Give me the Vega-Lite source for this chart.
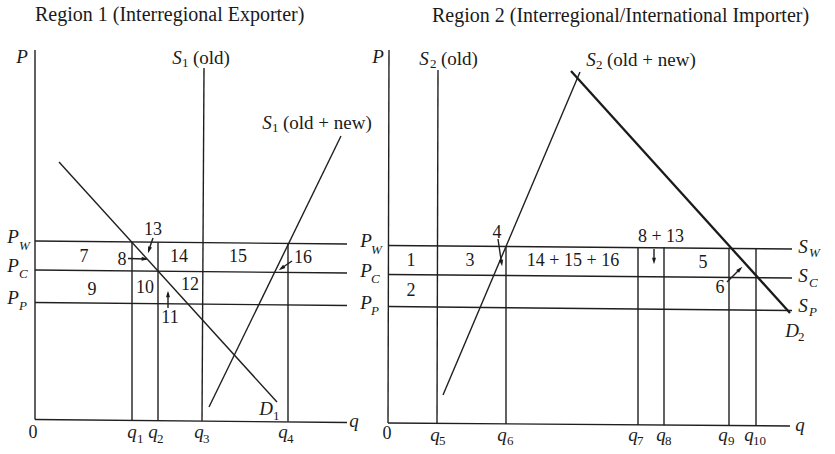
{
  "$schema": "https://vega.github.io/schema/vega-lite/v6.json",
  "width": 835,
  "height": 454,
  "autosize": {"type": "fit", "contains": "padding"},
  "padding": 0,
  "background": "white",
  "config": {"view": {"stroke": null}, "text": {"font": "Liberation Serif", "color": "#1a1a1a", "baseline": "middle"}},
  "datasets": {
    "lines": [
      {"name": "axis", "x": 35, "y": 50, "x2": 35, "y2": 419.5},
      {"name": "axis", "x": 35, "y": 419.5, "x2": 347, "y2": 422.5},
      {"name": "PW", "x": 35, "y": 241, "x2": 347, "y2": 244},
      {"name": "PC", "x": 35, "y": 270, "x2": 347, "y2": 273},
      {"name": "PP", "x": 35, "y": 302.5, "x2": 347, "y2": 305.5},
      {"name": "q1", "x": 132, "y": 242, "x2": 132, "y2": 420.5},
      {"name": "q2", "x": 158, "y": 242.2, "x2": 158, "y2": 420.7},
      {"name": "S1old", "x": 204, "y": 68, "x2": 202, "y2": 421},
      {"name": "q4", "x": 288, "y": 243, "x2": 288, "y2": 421.5},
      {"name": "D1", "x": 59, "y": 162, "x2": 277, "y2": 402},
      {"name": "S1new", "x": 209, "y": 407, "x2": 341, "y2": 136},
      {"name": "axis", "x": 389, "y": 50, "x2": 388, "y2": 423},
      {"name": "axis", "x": 388, "y": 423, "x2": 790, "y2": 426},
      {"name": "SW", "x": 388, "y": 245.5, "x2": 792, "y2": 249},
      {"name": "SC", "x": 388, "y": 274.5, "x2": 792, "y2": 278},
      {"name": "SP", "x": 388, "y": 306.5, "x2": 792, "y2": 310.5},
      {"name": "S2old", "x": 438, "y": 70, "x2": 437, "y2": 423.5},
      {"name": "q6", "x": 506, "y": 246, "x2": 506, "y2": 424},
      {"name": "q7", "x": 638, "y": 247, "x2": 638, "y2": 425},
      {"name": "q8", "x": 664, "y": 247.2, "x2": 664, "y2": 425.2},
      {"name": "q9", "x": 729, "y": 247.8, "x2": 729, "y2": 425.5},
      {"name": "q10", "x": 756, "y": 248, "x2": 756, "y2": 425.7},
      {"name": "S2new", "x": 443, "y": 395, "x2": 580, "y2": 72},
      {"name": "D2", "x": 571, "y": 71, "x2": 790, "y2": 313},
      {"name": "arrow", "x": 153, "y": 238, "x2": 148.5, "y2": 251},
      {"name": "arrow", "x": 128, "y": 258.5, "x2": 146, "y2": 259},
      {"name": "arrow", "x": 292, "y": 261, "x2": 281, "y2": 268.5},
      {"name": "arrow", "x": 168, "y": 308, "x2": 168, "y2": 293},
      {"name": "arrow", "x": 498, "y": 239, "x2": 501.5, "y2": 263},
      {"name": "arrow", "x": 654, "y": 249, "x2": 654, "y2": 261},
      {"name": "arrow", "x": 727, "y": 282, "x2": 740, "y2": 269}
    ],
    "heads": [
      {"x": 149, "y": 250, "angle": 198},
      {"x": 145, "y": 259, "angle": 93},
      {"x": 281.5, "y": 268.3, "angle": 235},
      {"x": 168, "y": 294, "angle": 0},
      {"x": 501.6, "y": 263, "angle": 172},
      {"x": 654, "y": 261, "angle": 180},
      {"x": 740, "y": 269, "angle": 45}
    ],
    "labels": [
      {"role": "title", "x": 35, "y": 15, "text": "Region 1 (Interregional Exporter)"},
      {"role": "title", "x": 432, "y": 16, "text": "Region 2 (Interregional/International Importer)"},
      {"role": "sym", "x": 22, "y": 57, "text": "P"},
      {"role": "sym", "x": 378, "y": 57, "text": "P"},
      {"role": "sym", "x": 354, "y": 421, "text": "q"},
      {"role": "sym", "x": 800, "y": 425, "text": "q"},
      {"role": "sym", "x": 132, "y": 432, "text": "q"},
      {"role": "sym", "x": 153, "y": 432, "text": "q"},
      {"role": "sym", "x": 199, "y": 432, "text": "q"},
      {"role": "sym", "x": 283, "y": 432, "text": "q"},
      {"role": "sym", "x": 435, "y": 435, "text": "q"},
      {"role": "sym", "x": 502, "y": 435, "text": "q"},
      {"role": "sym", "x": 633, "y": 435, "text": "q"},
      {"role": "sym", "x": 661, "y": 435, "text": "q"},
      {"role": "sym", "x": 723, "y": 435, "text": "q"},
      {"role": "sym", "x": 749, "y": 435, "text": "q"},
      {"role": "sym", "x": 13, "y": 237, "text": "P"},
      {"role": "sym", "x": 13, "y": 266, "text": "P"},
      {"role": "sym", "x": 13, "y": 298, "text": "P"},
      {"role": "sym", "x": 366, "y": 241, "text": "P"},
      {"role": "sym", "x": 366, "y": 271, "text": "P"},
      {"role": "sym", "x": 366, "y": 303, "text": "P"},
      {"role": "sym", "x": 803, "y": 247, "text": "S"},
      {"role": "sym", "x": 803, "y": 276, "text": "S"},
      {"role": "sym", "x": 803, "y": 306, "text": "S"},
      {"role": "sym", "x": 266, "y": 409, "text": "D"},
      {"role": "sym", "x": 792, "y": 331, "text": "D"},
      {"role": "sym", "x": 177, "y": 58, "text": "S"},
      {"role": "sym", "x": 267, "y": 123, "text": "S"},
      {"role": "sym", "x": 424, "y": 59, "text": "S"},
      {"role": "sym", "x": 591, "y": 60, "text": "S"},
      {"role": "subl", "x": 19, "y": 246, "text": "W"},
      {"role": "subl", "x": 19, "y": 274, "text": "C"},
      {"role": "subl", "x": 19, "y": 306, "text": "P"},
      {"role": "subl", "x": 371, "y": 250, "text": "W"},
      {"role": "subl", "x": 371, "y": 279, "text": "C"},
      {"role": "subl", "x": 371, "y": 311, "text": "P"},
      {"role": "subl", "x": 809, "y": 253, "text": "W"},
      {"role": "subl", "x": 809, "y": 283, "text": "C"},
      {"role": "subl", "x": 809, "y": 312, "text": "P"},
      {"role": "subn", "x": 137, "y": 439, "text": "1"},
      {"role": "subn", "x": 157, "y": 439, "text": "2"},
      {"role": "subn", "x": 203, "y": 439, "text": "3"},
      {"role": "subn", "x": 287, "y": 439, "text": "4"},
      {"role": "subn", "x": 439, "y": 441, "text": "5"},
      {"role": "subn", "x": 507, "y": 441, "text": "6"},
      {"role": "subn", "x": 637, "y": 441, "text": "7"},
      {"role": "subn", "x": 665, "y": 441, "text": "8"},
      {"role": "subn", "x": 728, "y": 441, "text": "9"},
      {"role": "subn", "x": 753, "y": 441, "text": "10"},
      {"role": "subn", "x": 182, "y": 63, "text": "1"},
      {"role": "subn", "x": 272, "y": 128, "text": "1"},
      {"role": "subn", "x": 430, "y": 64, "text": "2"},
      {"role": "subn", "x": 596, "y": 65, "text": "2"},
      {"role": "subn", "x": 273, "y": 416, "text": "1"},
      {"role": "subn", "x": 798, "y": 337, "text": "2"},
      {"role": "word", "x": 193, "y": 58, "text": "(old)"},
      {"role": "word", "x": 283, "y": 123, "text": "(old + new)"},
      {"role": "word", "x": 441, "y": 59, "text": "(old)"},
      {"role": "word", "x": 607, "y": 60, "text": "(old  +  new)"},
      {"role": "num", "x": 33, "y": 433, "text": "0"},
      {"role": "num", "x": 387, "y": 434, "text": "0"},
      {"role": "num", "x": 153, "y": 230, "text": "13"},
      {"role": "num", "x": 84, "y": 257, "text": "7"},
      {"role": "num", "x": 122, "y": 260, "text": "8"},
      {"role": "num", "x": 179, "y": 257, "text": "14"},
      {"role": "num", "x": 238, "y": 257, "text": "15"},
      {"role": "num", "x": 303, "y": 258, "text": "16"},
      {"role": "num", "x": 92, "y": 290, "text": "9"},
      {"role": "num", "x": 145, "y": 288, "text": "10"},
      {"role": "num", "x": 190, "y": 285, "text": "12"},
      {"role": "num", "x": 170, "y": 318, "text": "11"},
      {"role": "num", "x": 411, "y": 261, "text": "1"},
      {"role": "num", "x": 470, "y": 261, "text": "3"},
      {"role": "num", "x": 497, "y": 233, "text": "4"},
      {"role": "num", "x": 573, "y": 261, "text": "14 + 15 + 16"},
      {"role": "num", "x": 661, "y": 237, "text": "8 + 13"},
      {"role": "num", "x": 703, "y": 263, "text": "5"},
      {"role": "num", "x": 411, "y": 291, "text": "2"},
      {"role": "num", "x": 720, "y": 288, "text": "6"}
    ]
  },
  "encoding": {
    "x": {"field": "x", "type": "quantitative", "scale": {"domain": [0, 835], "nice": false, "zero": false}, "axis": null},
    "y": {"field": "y", "type": "quantitative", "scale": {"domain": [0, 454], "nice": false, "zero": false, "reverse": true}, "axis": null}
  },
  "layer": [
    {
      "data": {"name": "lines"},
      "transform": [{"filter": "datum.name != 'D2'"}],
      "mark": {"type": "rule", "color": "#1f1f1f", "strokeWidth": 1.4},
      "encoding": {"x2": {"field": "x2"}, "y2": {"field": "y2"}}
    },
    {
      "data": {"name": "lines"},
      "transform": [{"filter": "datum.name == 'D2'"}],
      "mark": {"type": "rule", "color": "#1a1a1a", "strokeWidth": 2.3},
      "encoding": {"x2": {"field": "x2"}, "y2": {"field": "y2"}}
    },
    {
      "data": {"name": "heads"},
      "mark": {"type": "point", "shape": "M0,-1L0.6,1L-0.6,1Z", "filled": true, "size": 45, "color": "#1a1a1a", "opacity": 1},
      "encoding": {"angle": {"field": "angle", "type": "quantitative", "scale": null}}
    },
    {
      "data": {"name": "labels"},
      "transform": [{"filter": "datum.role == 'title'"}],
      "mark": {"type": "text", "fontSize": 20, "align": "left"},
      "encoding": {"text": {"field": "text"}}
    },
    {
      "data": {"name": "labels"},
      "transform": [{"filter": "datum.role == 'sym'"}],
      "mark": {"type": "text", "fontSize": 19, "fontStyle": "italic", "align": "center"},
      "encoding": {"text": {"field": "text"}}
    },
    {
      "data": {"name": "labels"},
      "transform": [{"filter": "datum.role == 'subl'"}],
      "mark": {"type": "text", "fontSize": 13, "fontStyle": "italic", "align": "left"},
      "encoding": {"text": {"field": "text"}}
    },
    {
      "data": {"name": "labels"},
      "transform": [{"filter": "datum.role == 'subn'"}],
      "mark": {"type": "text", "fontSize": 13, "align": "left"},
      "encoding": {"text": {"field": "text"}}
    },
    {
      "data": {"name": "labels"},
      "transform": [{"filter": "datum.role == 'word'"}],
      "mark": {"type": "text", "fontSize": 19, "align": "left"},
      "encoding": {"text": {"field": "text"}}
    },
    {
      "data": {"name": "labels"},
      "transform": [{"filter": "datum.role == 'num'"}],
      "mark": {"type": "text", "fontSize": 18, "align": "center"},
      "encoding": {"text": {"field": "text"}}
    }
  ]
}
